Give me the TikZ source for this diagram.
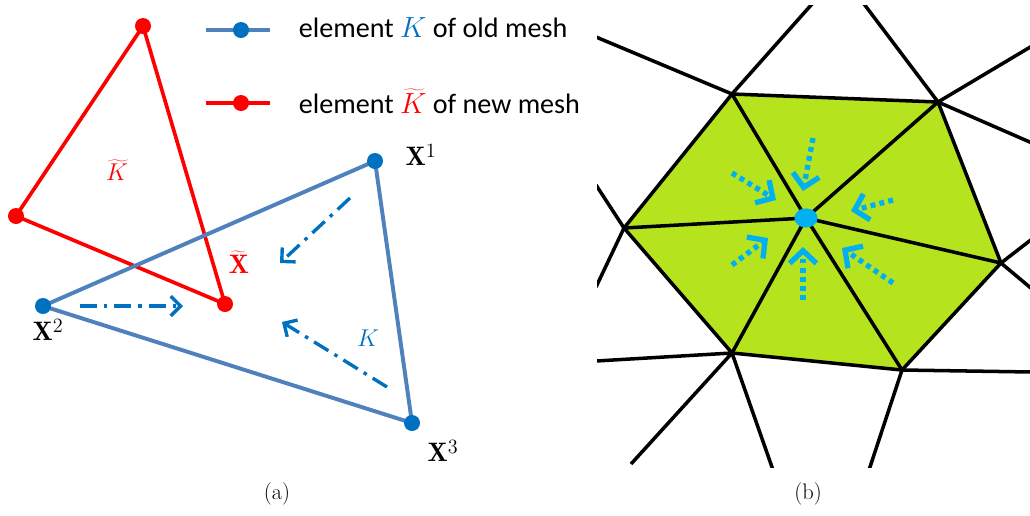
\documentclass[tikz,border=0pt]{standalone}
\usepackage{fontspec}
\newfontfamily\legendfont{Carlito}
\usetikzlibrary{arrows.meta,shapes.geometric}
\definecolor{oldblue}{RGB}{79,129,189}
\definecolor{dotblue}{RGB}{0,112,192}
\definecolor{meshgreen}{RGB}{181,228,31}
\definecolor{cyanarrow}{RGB}{0,176,240}
\begin{document}
\begin{tikzpicture}[x=0.025cm,y=-0.025cm,
  oldtri/.style={draw=oldblue,line width=2.8pt,line join=round},
  newtri/.style={draw=red,line width=2.6pt,line join=round},
  bluedot/.style={circle,fill=dotblue,inner sep=0pt,minimum size=0.4cm},
  reddot/.style={circle,fill=red,inner sep=0pt,minimum size=0.4cm},
  dashdotarrow/.style={draw=dotblue,line width=2.4pt,dash pattern=on 12pt off 5pt on 2.5pt off 5pt,
    -{Straight Barb[length=7pt,width=14pt,line width=2.4pt]}},
  meshline/.style={draw=black,line width=2.5pt,line join=round},
  dotarrow/.style={draw=cyanarrow,line width=3.8pt,dash pattern=on 3.5pt off 3pt,
    -{Straight Barb[length=9pt,width=19pt,line width=3.8pt]}},
  vlabel/.style={font=\fontsize{19}{22}\selectfont},
  legendtext/.style={anchor=west,font=\legendfont\fontsize{20}{24}\selectfont},
  caption/.style={font=\fontsize{16}{18}\selectfont}
]
\useasboundingbox (0,0) rectangle (1030,515);

% ---------- panel (a) ----------
\coordinate (X1) at (375,161);
\coordinate (X2) at (43,306);
\coordinate (X3) at (412,423);
\coordinate (R1) at (143,26);
\coordinate (R2) at (16,216);
\coordinate (R3) at (225,304);

\draw[newtri] (R1) -- (R2) -- (R3) -- cycle;
\draw[oldtri] (X1) -- (X2) -- (X3) -- cycle;

\node[bluedot] (d1) at (X1) {};
\node[bluedot] (d2) at (X2) {};
\node[bluedot] (d3) at (X3) {};
\node[reddot] (r1) at (R1) {};
\node[reddot] (r2) at (R2) {};
\node[reddot] (r3) at (R3) {};

\node[vlabel] (l1) at (421,155) {$\mathbf{X}^1$};
\node[vlabel] (l2) at (48,330) {$\mathbf{X}^2$};
\node[vlabel] (l3) at (443,451) {$\mathbf{X}^3$};
\node[vlabel,text=red] (lx) at (239,262) {$\widetilde{\mathbf{X}}$};
\node[vlabel,text=red] (lk) at (117,170) {$\widetilde{K}$};
\node[vlabel,text=dotblue] (lK) at (368,338) {$K$};

\coordinate (a1s) at (350,198); \coordinate (a1e) at (280,263);
\coordinate (a2s) at (80,306);  \coordinate (a2e) at (183,306);
\coordinate (a3s) at (387,387); \coordinate (a3e) at (282,322);
\draw[dashdotarrow] (a1s) -- (a1e);
\draw[dashdotarrow] (a2s) -- (a2e);
\draw[dashdotarrow] (a3s) -- (a3e);

% legend
\coordinate (lb1) at (206,30); \coordinate (lb2) at (270,30);
\coordinate (lr1) at (206,103); \coordinate (lr2) at (270,103);
\draw[draw=oldblue,line width=2.8pt] (lb1) -- (lb2);
\draw[draw=red,line width=2.8pt] (lr1) -- (lr2);
\node[bluedot] (lbd) at (241,30) {};
\node[reddot] (lrd) at (241,103) {};
\node[legendtext] (lt1) at (294,28) {element \textcolor{dotblue}{$K$} of old mesh};
\node[legendtext] (lt2) at (294,101) {element \textcolor{red}{$\widetilde{K}$} of new mesh};

\node[caption] (ca) at (277,494) {(a)};
\node[caption] (cb) at (808,494) {(b)};

% ---------- panel (b) ----------
\coordinate (C) at (806,218);
\coordinate (A) at (732,94);
\coordinate (B) at (938,102);
\coordinate (Cc) at (1001,263);
\coordinate (D) at (902,370);
\coordinate (E) at (732,353);
\coordinate (F) at (624,228);

\coordinate (o1) at (812,4);
\coordinate (o2) at (596,37);
\coordinate (o3) at (864,4);
\coordinate (o4) at (1032,46);
\coordinate (o5) at (1032,143);
\coordinate (o6) at (1032,239);
\coordinate (o7) at (1032,289);
\coordinate (o8) at (1032,372);
\coordinate (o9) at (869,470);
\coordinate (o10) at (596,361);
\coordinate (o11) at (631,464);
\coordinate (o12) at (773,470);
\coordinate (o13) at (596,185);
\coordinate (o14) at (596,287);

\begin{scope}
\clip (597,5) rectangle (1030,467);
\fill[meshgreen] (A) -- (B) -- (Cc) -- (D) -- (E) -- (F) -- cycle;
\draw[meshline] (A) -- (B) -- (Cc) -- (D) -- (E) -- (F) -- cycle;
\draw[meshline] (C) -- (A) (C) -- (B) (C) -- (Cc) (C) -- (D) (C) -- (E) (C) -- (F);
\draw[meshline] (A) -- (o1) (A) -- (o2);
\draw[meshline] (B) -- (o3) (B) -- (o4) (B) -- (o5);
\draw[meshline] (Cc) -- (o6) (Cc) -- (o7);
\draw[meshline] (D) -- (o8) (D) -- (o9);
\draw[meshline] (E) -- (o10) (E) -- (o11) (E) -- (o12);
\draw[meshline] (F) -- (o13) (F) -- (o14);
\end{scope}

\coordinate (b1s) at (732,173); \coordinate (b1e) at (776,200);
\coordinate (b2s) at (813,138); \coordinate (b2e) at (803,191);
\coordinate (b3s) at (893,200); \coordinate (b3e) at (851,211);
\coordinate (b4s) at (732,265); \coordinate (b4e) at (768,238);
\coordinate (b5s) at (803,300); \coordinate (b5e) at (803,247);
\coordinate (b6s) at (893,283); \coordinate (b6e) at (842,248);
\draw[dotarrow] (b1s) -- (b1e);
\draw[dotarrow] (b2s) -- (b2e);
\draw[dotarrow] (b3s) -- (b3e);
\draw[dotarrow] (b4s) -- (b4e);
\draw[dotarrow] (b5s) -- (b5e);
\draw[dotarrow] (b6s) -- (b6e);

\node[ellipse,fill=cyanarrow,inner sep=0pt,minimum width=0.58cm,minimum height=0.48cm] (cdot) at (C) {};
\end{tikzpicture}
\end{document}
